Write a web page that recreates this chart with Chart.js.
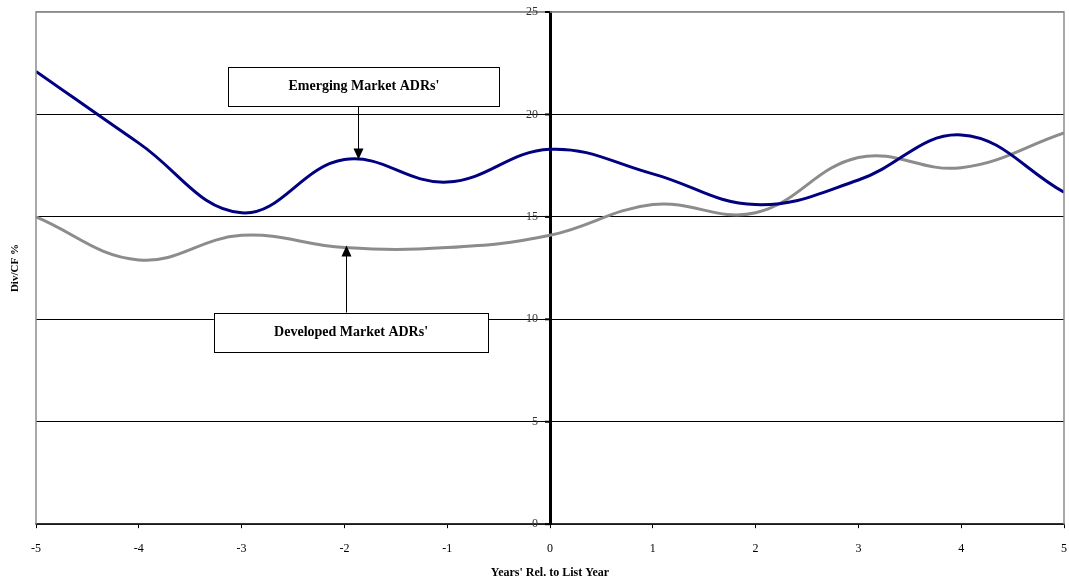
<!DOCTYPE html>
<html>
<head>
<meta charset="utf-8">
<script src="https://cdn.jsdelivr.net/npm/chart.js@4/dist/chart.umd.min.js"></script>
<style>
  html, body { margin: 0; padding: 0; background: #fff; }
  #wrap { width: 1069px; height: 585px; }
</style>
</head>
<body>
<div id="wrap"><canvas id="divChart"></canvas></div>
<script>
// 연도 (상장 연도 기준)
const years = [-5, -4, -3, -2, -1, 0, 1, 2, 3, 4, 5];
// Div/CF % 값
const emergingValues = [22.1, 18.6, 15.2, 17.8, 16.7, 18.3, 17.1, 15.6, 16.8, 19.0, 16.2];
const developedValues = [15.0, 12.9, 14.1, 13.5, 13.5, 14.1, 15.6, 15.2, 17.9, 17.4, 19.1];
const yTicks = [0, 5, 10, 15, 20, 25];

// 주석 상자 (데이터 좌표)
const noteLabels = ["Emerging Market ADRs'", "Developed Market ADRs'"];
const noteBoxes = [
    { x1: -3.13, x2: -0.49, y1: 22.3, y2: 20.4, ax: -1.87, ay: 17.8 },
    { x1: -3.27, x2: -0.60, y1: 10.33, y2: 8.43, ax: -1.98, ay: 13.6 }
];

const serif = "'Liberation Serif', 'DejaVu Serif', serif";

function toPoints(vals) {
    return years.map((x, i) => ({ x: x, y: vals[i] }));
}

// 외곽선, y축 라벨/제목, 주석 그리기
const extrasPlugin = {
    id: 'extras',
    afterDraw(chart) {
        const { ctx, chartArea: a, scales } = chart;
        const sx = scales.x, sy = scales.y;
        ctx.save();
        // 좌우 테두리 (회색)
        ctx.strokeStyle = '#8c8c8c';
        ctx.lineWidth = 1.5;
        ctx.beginPath();
        ctx.moveTo(a.left, a.bottom);
        ctx.lineTo(a.left, a.top);
        ctx.lineTo(a.right, a.top);
        ctx.lineTo(a.right, a.bottom);
        ctx.stroke();

        // y축 눈금 라벨 (가운데 축 왼쪽)
        const axisX = sx.getPixelForValue(0);
        ctx.fillStyle = '#333';
        ctx.strokeStyle = '#000';
        ctx.lineWidth = 2;
        ctx.font = '12px ' + serif;
        ctx.textAlign = 'right';
        ctx.textBaseline = 'middle';
        yTicks.forEach(v => {
            const py = sy.getPixelForValue(v);
            ctx.fillText(String(v), axisX - 12, py);
            ctx.beginPath();
            ctx.moveTo(axisX - 5, py);
            ctx.lineTo(axisX, py);
            ctx.stroke();
        });

        // y축 제목
        ctx.fillStyle = '#000';
        ctx.font = 'bold 11px ' + serif;
        ctx.translate(15, (a.top + a.bottom) / 2);
        ctx.rotate(-Math.PI / 2);
        ctx.textAlign = 'center';
        ctx.fillText('Div/CF %', 0, 0);
        ctx.setTransform(1, 0, 0, 1, 0, 0);

        // 주석 상자와 화살표
        noteBoxes.forEach((b, i) => {
            const l = sx.getPixelForValue(b.x1), r = sx.getPixelForValue(b.x2);
            const t = sy.getPixelForValue(b.y1), btm = sy.getPixelForValue(b.y2);
            ctx.fillStyle = '#fff';
            ctx.fillRect(l, t, r - l, btm - t);
            ctx.strokeStyle = '#000';
            ctx.lineWidth = 1;
            ctx.strokeRect(Math.round(l) + 0.5, Math.round(t) + 0.5, Math.round(r - l), Math.round(btm - t));
            ctx.fillStyle = '#000';
            ctx.font = 'bold 14px ' + serif;
            ctx.textAlign = 'center';
            ctx.textBaseline = 'middle';
            ctx.fillText(noteLabels[i], (l + r) / 2, (t + btm) / 2);

            const ax = Math.round(sx.getPixelForValue(b.ax)) + 0.5;
            const tipY = sy.getPixelForValue(b.ay);
            const startY = tipY > btm ? btm : t;
            const dir = tipY > startY ? 1 : -1;
            ctx.beginPath();
            ctx.moveTo(ax, startY);
            ctx.lineTo(ax, tipY - dir * 10);
            ctx.stroke();
            ctx.beginPath();
            ctx.moveTo(ax, tipY);
            ctx.lineTo(ax - 5, tipY - dir * 11);
            ctx.lineTo(ax + 5, tipY - dir * 11);
            ctx.closePath();
            ctx.fill();
        });
        ctx.restore();
    }
};

const ctx = document.getElementById('divChart').getContext('2d');
new Chart(ctx, {
    type: 'line',
    data: {
        datasets: [
            {
                label: "Emerging Market ADRs'",
                data: toPoints(emergingValues),
                borderColor: '#000080',
                borderWidth: 3,
                pointRadius: 0,
                tension: 0.4,
                fill: false
            },
            {
                label: "Developed Market ADRs'",
                data: toPoints(developedValues),
                borderColor: '#8c8c8c',
                borderWidth: 3,
                pointRadius: 0,
                tension: 0.4,
                fill: false
            }
        ]
    },
    options: {
        responsive: true,
        maintainAspectRatio: false,
        animation: false,
        layout: { padding: { left: 36, right: 5, top: 12, bottom: 5 } },
        plugins: {
            legend: { display: false },
            tooltip: { enabled: false }
        },
        scales: {
            x: {
                type: 'linear',
                min: -5,
                max: 5,
                position: 'bottom',
                afterFit: s => { s.paddingLeft = 0; s.paddingRight = 0; },
                grid: {
                    drawOnChartArea: false,
                    color: '#000',
                    tickLength: 4
                },
                border: { color: '#333', width: 1.5 },
                ticks: {
                    stepSize: 1,
                    color: '#000',
                    padding: 13,
                    font: { family: serif, size: 12 },
                    maxRotation: 0
                },
                title: {
                    display: true,
                    text: "Years' Rel. to List Year",
                    color: '#000',
                    font: { family: serif, size: 12, weight: 'bold' },
                    padding: { top: -3, bottom: 0 }
                }
            },
            y: {
                type: 'linear',
                min: 0,
                max: 25,
                position: { x: 0 },
                afterBuildTicks: scale => {
                    scale.ticks = yTicks.map(v => ({ value: v }));
                },
                grid: {
                    color: c => (c.tick && c.tick.value === 25) ? '#8c8c8c' : '#000',
                    lineWidth: c => (c.tick && c.tick.value === 25) ? 1.5 : 1,
                    drawTicks: false
                },
                border: { color: '#000', width: 3 },
                ticks: { display: false }
            }
        }
    },
    plugins: [extrasPlugin]
});
</script>
</body>
</html>
